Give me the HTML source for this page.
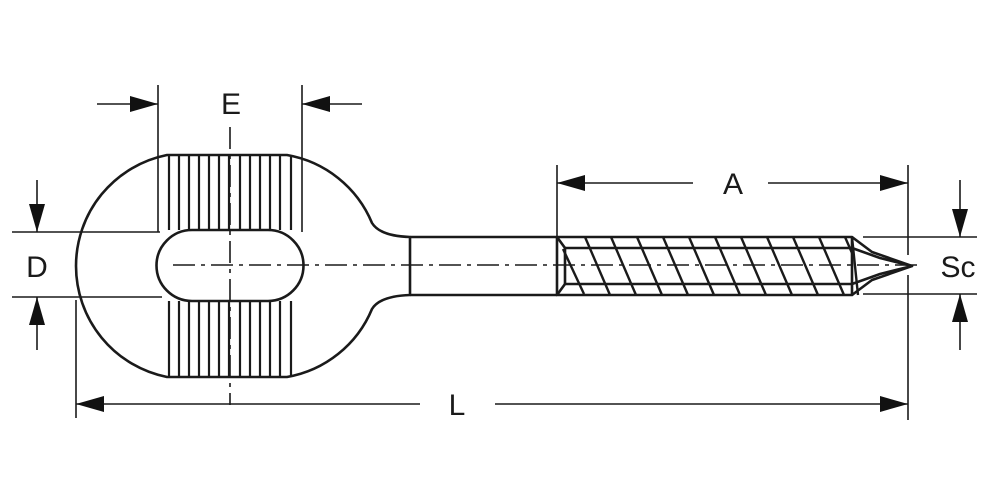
<!DOCTYPE html>
<html><head><meta charset="utf-8"><style>html,body{margin:0;padding:0;background:#fff}svg{display:block}</style></head>
<body>
<svg width="1000" height="500" viewBox="0 0 1000 500" xmlns="http://www.w3.org/2000/svg">
<defs>
<marker id="ar" viewBox="0 0 28 16" refX="28" refY="8" markerWidth="28" markerHeight="16" markerUnits="userSpaceOnUse" orient="auto"><path d="M0,0 L28,8 L0,16 Z" fill="#111"/></marker>
</defs>
<g fill="none" stroke="#1a1a1a" stroke-width="2.6" stroke-linejoin="round">
<path d="M167,155 L287,155 A113,113 0 0 1 372,223 Q380,236 410,237 L410,295 Q380,296 372,309 A113,113 0 0 1 287,377 L167,377 A113.2,113.2 0 0 1 167,155 Z"/>
<path d="M192,230 L268,230 A35,35 0 0 1 268,301 L192,301 A35,35 0 0 1 192,230 Z"/>
<line x1="410" y1="237" x2="557" y2="237"/>
<line x1="410" y1="295" x2="557" y2="295"/>
<path d="M557,237 L852,237 L852,295 L557,295 Z"/>
<line x1="565" y1="248" x2="852" y2="248"/>
<line x1="565" y1="284" x2="852" y2="284"/>
<line x1="565" y1="248" x2="565" y2="284"/>
<line x1="557" y1="237" x2="565" y2="248"/>
<line x1="557" y1="295" x2="565" y2="284"/>
<path d="M852,237 L872,252 L912,266 L872,280 L852,295"/>
<path d="M852,248 L880,258 L912,266 L880,274 L852,284"/>
</g>
<g stroke="#1a1a1a" stroke-width="2.4">
<line x1="563" y1="249" x2="584" y2="294"/>
<line x1="585" y1="237" x2="610" y2="295"/>
<line x1="611" y1="237" x2="636" y2="295"/>
<line x1="637" y1="237" x2="662" y2="295"/>
<line x1="663" y1="237" x2="688" y2="295"/>
<line x1="689" y1="237" x2="714" y2="295"/>
<line x1="715" y1="237" x2="740" y2="295"/>
<line x1="741" y1="237" x2="766" y2="295"/>
<line x1="767" y1="237" x2="792" y2="295"/>
<line x1="793" y1="237" x2="818" y2="295"/>
<line x1="819" y1="237" x2="844" y2="295"/>
<line x1="845" y1="237" x2="852" y2="253"/>
<line x1="852" y1="237" x2="858" y2="295"/>
</g>
<g stroke="#1a1a1a" stroke-width="2.2">
<path d="M169,156V230M179,156V230M189,156V230M199,156V230M209,156V230M219,156V230M229,156V230M240,156V230M250,156V230M260,156V230M270,156V230M280,156V230M291,156V230"/>
<path d="M169,301V376M179,301V376M189,301V376M199,301V376M209,301V376M219,301V376M229,301V376M240,301V376M250,301V376M260,301V376M270,301V376M280,301V376M291,301V376"/>
</g>
<g stroke="#1a1a1a" stroke-width="1.6" fill="none">
<line x1="173" y1="265" x2="920" y2="265" stroke-dasharray="22,6,4,6"/>
<line x1="230" y1="127" x2="230" y2="405" stroke-dasharray="22,6,4,6"/>
</g>
<g stroke="#1a1a1a" stroke-width="1.6" fill="none">
<line x1="158" y1="85" x2="158" y2="232"/>
<line x1="302" y1="85" x2="302" y2="232"/>
<line x1="97" y1="104" x2="158" y2="104" marker-end="url(#ar)"/>
<line x1="362" y1="104" x2="302" y2="104" marker-end="url(#ar)"/>
<line x1="12" y1="232" x2="160" y2="232"/>
<line x1="12" y1="297" x2="162" y2="297"/>
<line x1="37" y1="180" x2="37" y2="232" marker-end="url(#ar)"/>
<line x1="37" y1="350" x2="37" y2="297" marker-end="url(#ar)"/>
<line x1="557" y1="165" x2="557" y2="237"/>
<line x1="908" y1="165" x2="908" y2="255"/>
<line x1="908" y1="275" x2="908" y2="420"/>
<line x1="693" y1="183" x2="557" y2="183" marker-end="url(#ar)"/>
<line x1="768" y1="183" x2="908" y2="183" marker-end="url(#ar)"/>
<line x1="76" y1="300" x2="76" y2="418"/>
<line x1="420" y1="404" x2="76" y2="404" marker-end="url(#ar)"/>
<line x1="495" y1="404" x2="908" y2="404" marker-end="url(#ar)"/>
<line x1="863" y1="237" x2="977" y2="237"/>
<line x1="863" y1="294" x2="977" y2="294"/>
<line x1="960" y1="180" x2="960" y2="237" marker-end="url(#ar)"/>
<line x1="960" y1="350" x2="960" y2="294" marker-end="url(#ar)"/>
</g>
<g font-family="Liberation Sans, sans-serif" font-size="30" fill="#1a1a1a" text-anchor="middle">
<text x="231" y="114">E</text>
<text x="37" y="277">D</text>
<text x="733" y="194">A</text>
<text x="457" y="415">L</text>
<text x="958" y="277">Sc</text>
</g>
</svg>
</body></html>
